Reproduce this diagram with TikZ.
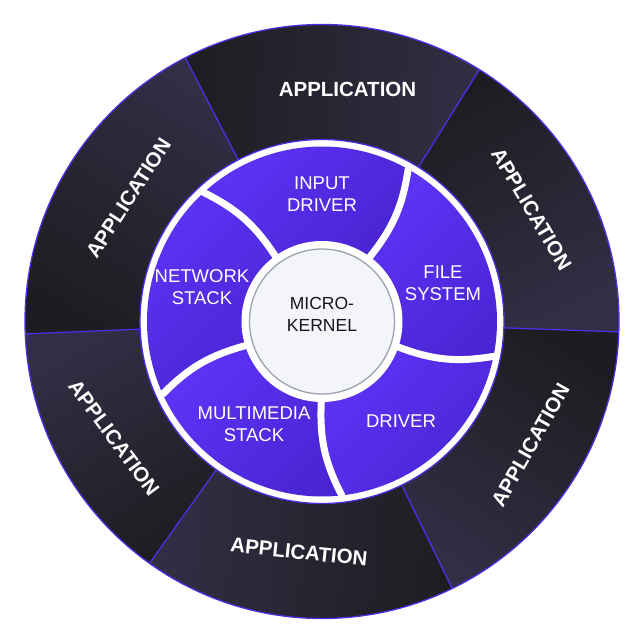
\documentclass[tikz,border=0pt]{standalone}
\usepackage{fontspec}
\setmainfont{Liberation Sans}
\usetikzlibrary{calc}
\definecolor{darkA}{HTML}{1D1D21}
\definecolor{darkB}{HTML}{302F45}
\definecolor{edge}{HTML}{4E2EE6}
\definecolor{purA}{HTML}{5D33F7}
\definecolor{purB}{HTML}{4A25D3}
\definecolor{kfill}{HTML}{F3F5F8}
\definecolor{kline}{HTML}{9BA4AE}
\definecolor{ktext}{HTML}{16161E}
\begin{document}
\begin{tikzpicture}[x=1pt,y=1pt,
  appsector/.style={bottom color=darkB, top color=darkA},
  seg/.style={top color=purA, bottom color=purB, shading angle=45},
  sepline/.style={white, line width=7pt, line cap=round},
  bline/.style={edge, line width=1.3pt},
  applabel/.style={text=white, font=\bfseries\fontsize{20.5}{24}\selectfont},
  seglabel/.style={text=white, align=center, font=\fontsize{18.5}{22}\selectfont},
  kerneltext/.style={text=ktext, align=center, font=\fontsize{17.5}{22}\selectfont},
]
\useasboundingbox (-322,-316.5) rectangle (316,321.5);

% outer application sectors
\foreach \a/\b in {-2/58, 58/117.4, 117.4/182.4, 182.4/234.5, 234.5/296, 296/358}{
  \pgfmathsetmacro\m{(\a+\b)/2}
  \shade[appsector, shading angle=\m] (\a:297) arc[start angle=\a, end angle=\b, radius=297]
     -- (\b:182) arc[start angle=\b, end angle=\a, radius=182] -- cycle;
}
\foreach \a [count=\i] in {-2,58,117.4,182.4,234.5,296}{
  \coordinate (bi\i) at (\a:182);
  \coordinate (bo\i) at (\a:297);
  \draw[bline] (bi\i) -- (bo\i);
}
\node[circle, draw=edge, line width=1.3pt, minimum size=594pt, inner sep=0pt] (outer) at (0,0) {};
\node[circle, fill=white, draw=edge, line width=1.3pt, minimum size=364pt, inner sep=0pt] (ring) at (0,0) {};

% separator end points
\foreach \k in {0,...,4}{
  \pgfmathsetmacro\ai{125.5-72*\k}
  \pgfmathsetmacro\ao{\ai+7}
  \coordinate (si\k) at (\ai:80);
  \coordinate (so\k) at (\ao:175);
}
% purple segments
\foreach \k in {0,...,4}{
  \pgfmathtruncatemacro\n{mod(\k+1,5)}
  \pgfmathsetmacro\ai{125.5-72*\k}
  \pgfmathsetmacro\aie{\ai-72}
  \pgfmathsetmacro\ao{\ai+7}
  \pgfmathsetmacro\aoe{\ao-72}
  \shade[seg] (si\k) to[bend right=15] (so\k)
     arc[start angle=\ao, end angle=\aoe, radius=175]
     to[bend left=15] (si\n)
     arc[start angle=\aie, end angle=\ai, radius=80] -- cycle;
}
\foreach \k in {0,...,4}{
  \draw[sepline] (si\k) to[bend right=15] (so\k);
}

% micro-kernel
\node[circle, fill=white, minimum size=161pt, inner sep=0pt] (kring) at (0,0) {};
\node[circle, fill=kfill, draw=kline, line width=1.3pt, minimum size=145pt, inner sep=0pt] (kernel) at (0,0) {};
\node[kerneltext] (ktxt) at (0,7) {MICRO-\\KERNEL};

% segment labels
\node[seglabel] (inp) at (0,127.5) {INPUT\\DRIVER};
\node[seglabel] (fs) at (121,38.5) {FILE\\SYSTEM};
\node[seglabel] (drv) at (79,-99.5) {DRIVER};
\node[seglabel] (mm) at (-68,-102.5) {MULTIMEDIA\\STACK};
\node[seglabel] (net) at (-120,34) {NETWORK\\STACK};

% application labels
\node[applabel] (app1) at (25.5,232.3) {APPLICATION};
\node[applabel, rotate=-59.4] (app2) at (209.5,112.5) {APPLICATION};
\node[applabel, rotate=60.5] (app3) at (208.5,-123.5) {APPLICATION};
\node[applabel, rotate=-6] (app4) at (-23,-230.5) {APPLICATION};
\node[applabel, rotate=-53.5] (app5) at (-208,-116.5) {APPLICATION};
\node[applabel, rotate=57] (app6) at (-193.5,123.5) {APPLICATION};
\end{tikzpicture}
\end{document}
